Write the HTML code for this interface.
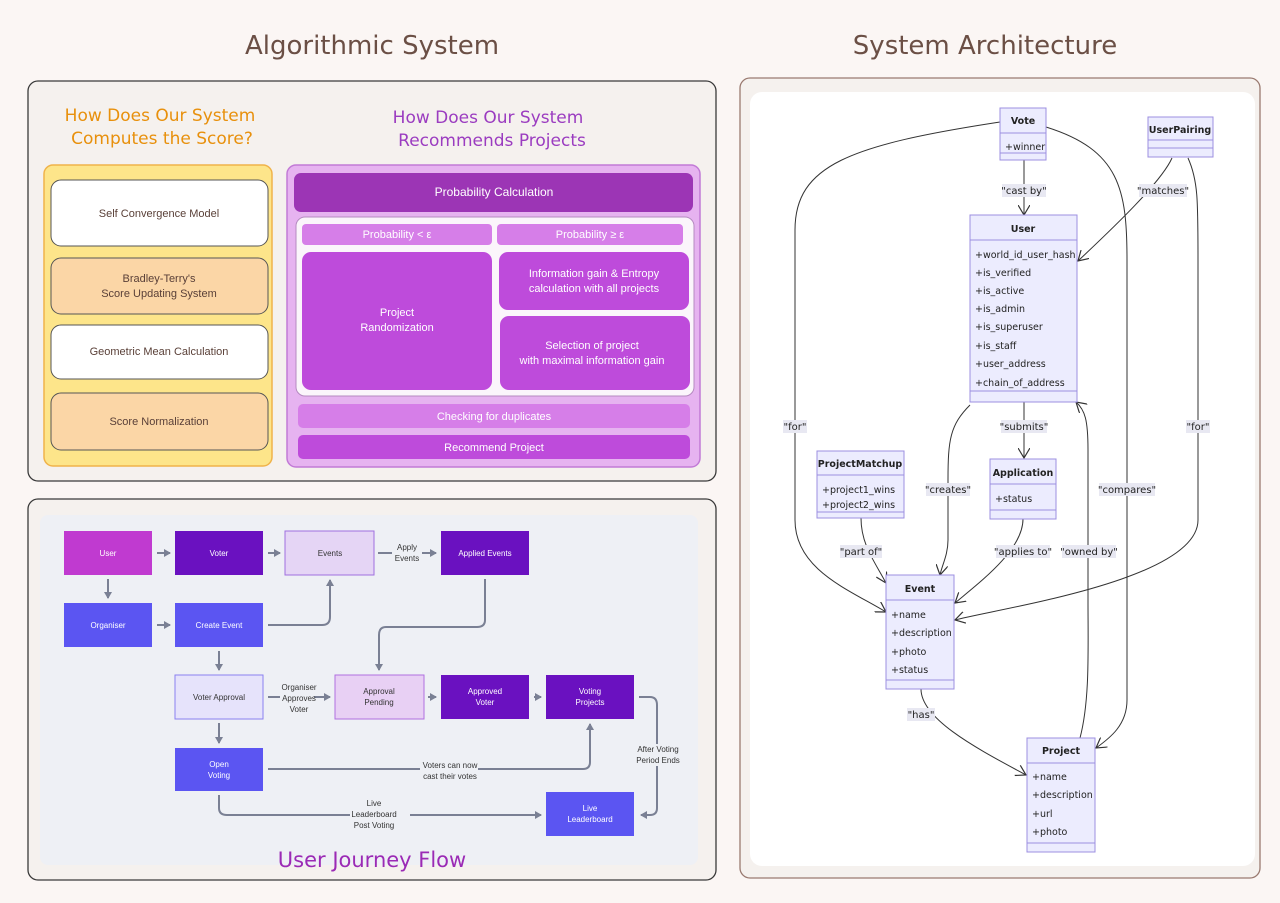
<!DOCTYPE html>
<html><head><meta charset="utf-8"><style>
html,body{margin:0;padding:0;background:#fbf6f4;}
svg{display:block;font-family:"Liberation Sans","DejaVu Sans",sans-serif;}
.h{font-family:"DejaVu Sans","Liberation Sans",sans-serif;}
.m{font-family:"DejaVu Sans","Liberation Sans",sans-serif;font-size:9.5px;fill:#222;}
.mb{font-family:"DejaVu Sans","Liberation Sans",sans-serif;font-size:9.5px;font-weight:bold;fill:#222;}
.lb{font-family:"DejaVu Sans",sans-serif;font-size:10px;fill:#222;}
</style></head><body>
<svg width="1280" height="903" viewBox="0 0 1280 903" xmlns="http://www.w3.org/2000/svg">
<defs>
<marker id="ga" markerWidth="8" markerHeight="8" refX="6" refY="4" orient="auto" markerUnits="userSpaceOnUse"><path d="M0,0 L7,4 L0,8 z" fill="#7a8094"/></marker>
<marker id="ua" markerWidth="12" markerHeight="12" refX="10" refY="6" orient="auto" markerUnits="userSpaceOnUse"><path d="M0,0 L10,6 L0,12" fill="none" stroke="#333" stroke-width="1.2"/></marker>
</defs>
<rect width="1280" height="903" fill="#fbf6f4"/>
<text x="372" y="54" text-anchor="middle" class="h" font-size="26" fill="#6b4f45">Algorithmic System</text>
<text x="985" y="54" text-anchor="middle" class="h" font-size="26" fill="#6b4f45">System Architecture</text>

<rect x="28" y="81" width="688" height="400" rx="10" fill="#f5f1ee" stroke="#3a3a3a" stroke-width="1.3"/>
<text x="160" y="121" text-anchor="middle" class="h" font-size="17" fill="#e8900c">How Does Our System</text>
<text x="162" y="144" text-anchor="middle" class="h" font-size="17" fill="#e8900c">Computes the Score?</text>
<text x="488" y="123" text-anchor="middle" class="h" font-size="17" fill="#9b3cc0">How Does Our System</text>
<text x="492" y="146" text-anchor="middle" class="h" font-size="17" fill="#9b3cc0">Recommends Projects</text>

<rect x="44" y="165" width="228" height="301" rx="9" fill="#fde58a" stroke="#f0b34a" stroke-width="1.5"/>
<rect x="51" y="180" width="217" height="66" rx="10" fill="#ffffff" stroke="#555" stroke-width="1"/>
<text x="159" y="217" text-anchor="middle" font-size="11" fill="#5a4038">Self Convergence Model</text>
<rect x="51" y="258" width="217" height="56" rx="10" fill="#fbd6a6" stroke="#555" stroke-width="1"/>
<text x="159" y="282" text-anchor="middle" font-size="11" fill="#5a4038">Bradley-Terry's</text>
<text x="159" y="297" text-anchor="middle" font-size="11" fill="#5a4038">Score Updating System</text>
<rect x="51" y="325" width="217" height="54" rx="10" fill="#ffffff" stroke="#555" stroke-width="1"/>
<text x="159" y="355" text-anchor="middle" font-size="11" fill="#5a4038">Geometric Mean Calculation</text>
<rect x="51" y="393" width="217" height="57" rx="10" fill="#fbd6a6" stroke="#555" stroke-width="1"/>
<text x="159" y="425" text-anchor="middle" font-size="11" fill="#5a4038">Score Normalization</text>

<rect x="287" y="165" width="413" height="302" rx="9" fill="#e6b3f0" stroke="#c27ad6" stroke-width="1.5"/>
<rect x="294" y="173" width="399" height="39" rx="7" fill="#9c35b5"/>
<text x="494" y="196" text-anchor="middle" font-size="12" fill="#fff">Probability Calculation</text>
<rect x="296" y="217" width="398" height="179" rx="9" fill="#fbf5fb" stroke="#b58ac0" stroke-width="1"/>
<rect x="302" y="224" width="190" height="21" rx="4" fill="#d67ee8"/>
<text x="397" y="238" text-anchor="middle" font-size="11" fill="#fff">Probability &lt; ε</text>
<rect x="497" y="224" width="186" height="21" rx="4" fill="#d67ee8"/>
<text x="590" y="238" text-anchor="middle" font-size="11" fill="#fff">Probability ≥ ε</text>
<rect x="302" y="252" width="190" height="138" rx="9" fill="#be4bdb"/>
<text x="397" y="316" text-anchor="middle" font-size="11" fill="#fff">Project</text>
<text x="397" y="331" text-anchor="middle" font-size="11" fill="#fff">Randomization</text>
<rect x="499" y="252" width="190" height="58" rx="9" fill="#be4bdb"/>
<text x="594" y="277" text-anchor="middle" font-size="11" fill="#fff">Information gain &amp; Entropy</text>
<text x="594" y="292" text-anchor="middle" font-size="11" fill="#fff">calculation with all projects</text>
<rect x="500" y="316" width="190" height="74" rx="9" fill="#be4bdb"/>
<text x="592" y="349" text-anchor="middle" font-size="11" fill="#fff">Selection of project</text>
<text x="592" y="364" text-anchor="middle" font-size="11" fill="#fff">with maximal information gain</text>
<rect x="298" y="404" width="392" height="24" rx="5" fill="#d67ee8"/>
<text x="494" y="420" text-anchor="middle" font-size="11" fill="#fff">Checking for duplicates</text>
<rect x="298" y="435" width="392" height="24" rx="5" fill="#be4bdb"/>
<text x="494" y="451" text-anchor="middle" font-size="11" fill="#fff">Recommend Project</text>

<rect x="28" y="499" width="688" height="381" rx="10" fill="#f5f1ee" stroke="#3a3a3a" stroke-width="1.3"/>
<rect x="40" y="515" width="658" height="350" rx="8" fill="#eef0f5"/>
<g stroke="#7a8094" stroke-width="2" fill="none">
<path d="M157,553 L170,553" marker-end="url(#ga)"/>
<path d="M268,553 L280,553" marker-end="url(#ga)"/>
<path d="M378,553 L392,553"/>
<path d="M422,553 L436,553" marker-end="url(#ga)"/>
<path d="M108,579 L108,598" marker-end="url(#ga)"/>
<path d="M157,625 L170,625" marker-end="url(#ga)"/>
<path d="M268,625 L322,625 Q330,625 330,617 L330,580" marker-end="url(#ga)"/>
<path d="M485,579 L485,620 Q485,627 477,627 L386,627 Q379,627 379,635 L379,670" marker-end="url(#ga)"/>
<path d="M219,651 L219,670" marker-end="url(#ga)"/>
<path d="M268,697 L282,697"/>
<path d="M312,697 L330,697" marker-end="url(#ga)"/>
<path d="M428,697 L436,697" marker-end="url(#ga)"/>
<path d="M534,697 L541,697" marker-end="url(#ga)"/>
<path d="M219,723 L219,743" marker-end="url(#ga)"/>
<path d="M268,769 L583,769 Q590,769 590,762 L590,724" marker-end="url(#ga)"/>
<path d="M639,697 L650,697 Q657,697 657,705 L657,808 Q657,815 650,815 L641,815" marker-end="url(#ga)"/>
<path d="M219,795 L219,808 Q219,815 227,815 L541,815" marker-end="url(#ga)"/>
</g>
<g font-size="8" fill="#333" text-anchor="middle">
<rect x="392" y="541" width="30" height="24" fill="#eef0f5"/>
<text x="407" y="550">Apply</text><text x="407" y="561">Events</text>
<rect x="280" y="682" width="34" height="32" fill="#eef0f5"/>
<text x="299" y="690">Organiser</text><text x="299" y="701">Approves</text><text x="299" y="712">Voter</text>
<rect x="420" y="760" width="58" height="22" fill="#eef0f5"/>
<text x="450" y="768">Voters can now</text><text x="450" y="779">cast their votes</text>
<rect x="632" y="744" width="52" height="22" fill="#eef0f5"/>
<text x="658" y="752">After Voting</text><text x="658" y="763">Period Ends</text>
<rect x="350" y="799" width="60" height="32" fill="#eef0f5"/>
<text x="374" y="806">Live</text><text x="374" y="817">Leaderboard</text><text x="374" y="828">Post Voting</text>
</g>
<g font-size="8" text-anchor="middle">
<rect x="64" y="531" width="88" height="44" fill="#c03ad0"/><text x="108" y="556" fill="#fff">User</text>
<rect x="175" y="531" width="88" height="44" fill="#6a11c0"/><text x="219" y="556" fill="#fff">Voter</text>
<rect x="285" y="531" width="89" height="44" fill="#e5d5f5" stroke="#a070e0"/><text x="330" y="556" fill="#333">Events</text>
<rect x="441" y="531" width="88" height="44" fill="#6a11c0"/><text x="485" y="556" fill="#fff">Applied Events</text>
<rect x="64" y="603" width="88" height="44" fill="#5b55f2"/><text x="108" y="628" fill="#fff">Organiser</text>
<rect x="175" y="603" width="88" height="44" fill="#5b55f2"/><text x="219" y="628" fill="#fff">Create Event</text>
<rect x="175" y="675" width="88" height="44" fill="#e6e3fb" stroke="#8a80f0"/><text x="219" y="700" fill="#333">Voter Approval</text>
<rect x="335" y="675" width="89" height="44" fill="#e8d0f4" stroke="#b070e0"/><text x="379" y="694" fill="#333">Approval</text><text x="379" y="705" fill="#333">Pending</text>
<rect x="441" y="675" width="88" height="44" fill="#6a11c0"/><text x="485" y="694" fill="#fff">Approved</text><text x="485" y="705" fill="#fff">Voter</text>
<rect x="546" y="675" width="88" height="44" fill="#6a11c0"/><text x="590" y="694" fill="#fff">Voting</text><text x="590" y="705" fill="#fff">Projects</text>
<rect x="175" y="748" width="88" height="43" fill="#5b55f2"/><text x="219" y="767" fill="#fff">Open</text><text x="219" y="778" fill="#fff">Voting</text>
<rect x="546" y="792" width="88" height="44" fill="#5b55f2"/><text x="590" y="811" fill="#fff">Live</text><text x="590" y="822" fill="#fff">Leaderboard</text>
</g>
<text x="372" y="867" text-anchor="middle" class="h" font-size="21" fill="#9b2ab5">User Journey Flow</text>

<rect x="740" y="78" width="520" height="800" rx="10" fill="#f5f1ee" stroke="#9a7a70" stroke-width="1.3"/>
<rect x="750" y="92" width="505" height="774" rx="12" fill="#ffffff"/>
<g stroke="#333" stroke-width="1" fill="none">
<path d="M1000,122 C850,145 795,165 795,230 L795,520 C795,570 850,590 886,612" marker-end="url(#ua)"/>
<path d="M1024,160 L1024,215" marker-end="url(#ua)"/>
<path d="M1046,127 C1120,150 1127,190 1127,260 L1127,700 C1127,725 1110,738 1096,748" marker-end="url(#ua)"/>
<path d="M1172,158 C1160,185 1100,240 1078,261" marker-end="url(#ua)"/>
<path d="M1188,158 C1198,180 1198,200 1198,260 L1198,520 C1198,580 1000,608 955,620" marker-end="url(#ua)"/>
<path d="M1024,402 L1024,458" marker-end="url(#ua)"/>
<path d="M970,405 C950,425 948,440 948,480 L948,540 C948,555 942,565 940,575" marker-end="url(#ua)"/>
<path d="M1023,519 C1023,550 980,582 955,603" marker-end="url(#ua)"/>
<path d="M861,518 C861,545 875,562 886,583" marker-end="url(#ua)"/>
<path d="M921,689 C921,720 980,750 1026,775" marker-end="url(#ua)"/>
<path d="M1080,738 C1090,700 1088,650 1088,600 L1088,450 C1088,420 1085,410 1076,402" marker-end="url(#ua)"/>
</g>
<g class="lb" text-anchor="middle">
<rect x="1002" y="184" width="44" height="13" fill="#e8e8f2"/><text x="1024" y="194">"cast by"</text>
<rect x="1139" y="184" width="48" height="13" fill="#e8e8f2"/><text x="1163" y="194">"matches"</text>
<rect x="783" y="420" width="24" height="13" fill="#e8e8f2"/><text x="795" y="430">"for"</text>
<rect x="1186" y="420" width="24" height="13" fill="#e8e8f2"/><text x="1198" y="430">"for"</text>
<rect x="1001" y="420" width="46" height="13" fill="#e8e8f2"/><text x="1024" y="430">"submits"</text>
<rect x="926" y="483" width="44" height="13" fill="#e8e8f2"/><text x="948" y="493">"creates"</text>
<rect x="1099" y="483" width="56" height="13" fill="#e8e8f2"/><text x="1127" y="493">"compares"</text>
<rect x="840" y="545" width="42" height="13" fill="#e8e8f2"/><text x="861" y="555">"part of"</text>
<rect x="996" y="545" width="54" height="13" fill="#e8e8f2"/><text x="1023" y="555">"applies to"</text>
<rect x="1062" y="545" width="54" height="13" fill="#e8e8f2"/><text x="1089" y="555">"owned by"</text>
<rect x="907" y="708" width="28" height="13" fill="#e8e8f2"/><text x="921" y="718">"has"</text>
</g>
<g fill="#ececfe" stroke="#9c8fe0" stroke-width="1">
<rect x="1000" y="108" width="46" height="52"/><line x1="1000" y1="133" x2="1046" y2="133"/><line x1="1000" y1="153" x2="1046" y2="153"/>
<rect x="1148" y="117" width="65" height="40"/><line x1="1148" y1="140" x2="1213" y2="140"/><line x1="1148" y1="148" x2="1213" y2="148"/>
<rect x="970" y="215" width="107" height="187"/><line x1="970" y1="240" x2="1077" y2="240"/><line x1="970" y1="391" x2="1077" y2="391"/>
<rect x="817" y="451" width="87" height="67"/><line x1="817" y1="475" x2="904" y2="475"/><line x1="817" y1="512" x2="904" y2="512"/>
<rect x="990" y="459" width="66" height="60"/><line x1="990" y1="484" x2="1056" y2="484"/><line x1="990" y1="510" x2="1056" y2="510"/>
<rect x="886" y="575" width="68" height="114"/><line x1="886" y1="600" x2="954" y2="600"/><line x1="886" y1="680" x2="954" y2="680"/>
<rect x="1027" y="738" width="68" height="114"/><line x1="1027" y1="763" x2="1095" y2="763"/><line x1="1027" y1="843" x2="1095" y2="843"/>
</g>
<text x="1023" y="124" text-anchor="middle" class="mb">Vote</text>
<text x="1005" y="150" class="m">+winner</text>
<text x="1180" y="133" text-anchor="middle" class="mb">UserPairing</text>
<text x="1023" y="232" text-anchor="middle" class="mb">User</text>
<g class="m">
<text x="975" y="258">+world_id_user_hash</text>
<text x="975" y="276">+is_verified</text>
<text x="975" y="294">+is_active</text>
<text x="975" y="312">+is_admin</text>
<text x="975" y="330">+is_superuser</text>
<text x="975" y="349">+is_staff</text>
<text x="975" y="367">+user_address</text>
<text x="975" y="386">+chain_of_address</text>
<text x="822" y="493">+project1_wins</text>
<text x="822" y="508">+project2_wins</text>
<text x="995" y="502">+status</text>
<text x="891" y="618">+name</text>
<text x="891" y="636">+description</text>
<text x="891" y="655">+photo</text>
<text x="891" y="673">+status</text>
<text x="1032" y="780">+name</text>
<text x="1032" y="798">+description</text>
<text x="1032" y="817">+url</text>
<text x="1032" y="835">+photo</text>
</g>
<text x="860" y="467" text-anchor="middle" class="mb">ProjectMatchup</text>
<text x="1023" y="476" text-anchor="middle" class="mb">Application</text>
<text x="920" y="592" text-anchor="middle" class="mb">Event</text>
<text x="1061" y="754" text-anchor="middle" class="mb">Project</text>
</svg>
</body></html>
